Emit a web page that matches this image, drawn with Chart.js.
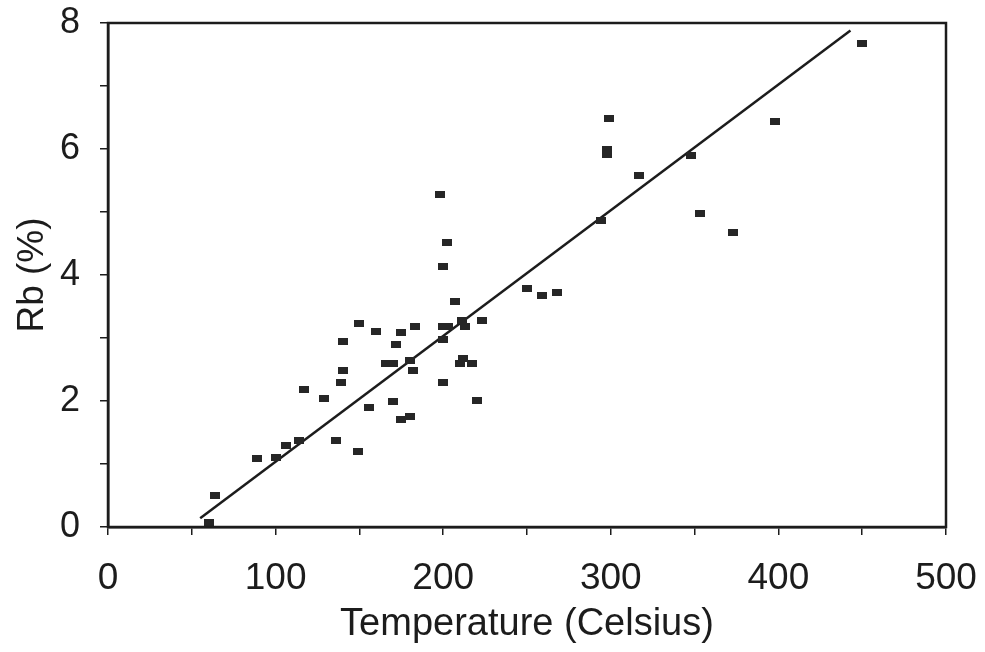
<!DOCTYPE html>
<html>
<head>
<meta charset="utf-8">
<script src="https://cdn.jsdelivr.net/npm/chart.js@4/dist/chart.umd.min.js"></script>
<style>
  html, body { margin: 0; padding: 0; background: #fff; }
  #wrap { width: 985px; height: 652px; }
</style>
</head>
<body>
<div id="wrap"><canvas id="rb-chart" width="985" height="652"></canvas></div>
<script>
// temperature (C) and Rb (%)
const temps = [60, 64, 89, 100, 106, 114, 117, 129, 140, 140, 139, 136, 149, 150, 160,
  156, 166, 170, 170, 172, 175, 175, 180, 180, 182, 183, 198, 200, 202, 200, 203, 200,
  200, 207, 211, 213, 212, 210, 217, 220, 223, 250, 259, 268, 294, 299, 298, 298, 317,
  348, 353, 373, 398, 450];
const rb = [0.07, 0.5, 1.09, 1.11, 1.29, 1.38, 2.19, 2.04, 2.95, 2.49, 2.29, 1.38, 1.2,
  3.23, 3.1, 1.89, 2.59, 2.59, 2.0, 2.89, 3.09, 1.7, 1.75, 2.64, 2.49, 3.19, 5.28, 4.14,
  4.51, 3.19, 3.19, 2.98, 2.3, 3.58, 3.28, 3.18, 2.68, 2.59, 2.59, 2.01, 3.28, 3.78,
  3.67, 3.72, 4.87, 6.48, 5.99, 5.91, 5.58, 5.89, 4.98, 4.67, 6.44, 7.68];

// fitted line end points
const fitX = [55, 443];
const fitY = [0.14, 7.88];

const xTicks = [0, 100, 200, 300, 400, 500];
const yTicks = [0, 2, 4, 6, 8];

const ink = "#1c1c1c";
const fontFamily = "'Liberation Sans', Arial, Helvetica, sans-serif";

// small flat rectangle like the scanned markers
function makeMarker() {
    const c = document.createElement("canvas");
    c.width = 10;
    c.height = 7;
    const g = c.getContext("2d");
    g.fillStyle = "#262626";
    g.fillRect(0, 0, 10, 7);
    return c;
}

const points = temps.map((t, i) => ({ x: t, y: rb[i] }));
const fitLine = fitX.map((t, i) => ({ x: t, y: fitY[i] }));

const frame = {
    id: "frame",
    afterDatasetsDraw(chart) {
        const a = chart.chartArea;
        const ctx = chart.ctx;
        ctx.save();
        ctx.strokeStyle = ink;
        ctx.lineWidth = 2.5;
        ctx.strokeRect(a.left, a.top, a.right - a.left, a.bottom - a.top);
        ctx.restore();
    }
};

// keep label overhang from pushing the plot area around
function noOverhang(scale) {
    scale.paddingTop = 0;
    scale.paddingBottom = 0;
    scale.paddingLeft = 0;
    scale.paddingRight = 0;
}

const ctx = document.getElementById("rb-chart").getContext("2d");

new Chart(ctx, {
    type: "scatter",
    data: {
        datasets: [
            {
                label: "Rb",
                data: points,
                pointStyle: makeMarker(),
                pointRadius: 5,
                pointHoverRadius: 5
            },
            {
                label: "fit",
                type: "line",
                data: fitLine,
                showLine: true,
                borderColor: ink,
                borderWidth: 2.5,
                pointRadius: 0,
                fill: false,
                clip: false
            }
        ]
    },
    options: {
        responsive: false,
        animation: false,
        events: [],
        layout: { padding: { top: 23, right: 39, left: 0, bottom: 0 } },
        plugins: {
            legend: { display: false },
            tooltip: { enabled: false }
        },
        scales: {
            x: {
                type: "linear",
                min: 0,
                max: 500,
                afterFit(scale) { scale.height = 125; noOverhang(scale); },
                border: { display: true, color: ink, width: 2.5 },
                grid: { drawOnChartArea: false, drawTicks: true, tickLength: 8, color: ink, lineWidth: 1.5 },
                ticks: {
                    stepSize: 50,
                    padding: 22,
                    color: ink,
                    font: { family: fontFamily, size: 37 },
                    callback: v => xTicks.includes(v) ? String(v) : ""
                },
                title: {
                    display: true,
                    text: "Temperature (Celsius)",
                    color: ink,
                    font: { family: fontFamily, size: 38 },
                    padding: { top: 0, bottom: 5 }
                }
            },
            y: {
                type: "linear",
                min: 0,
                max: 8,
                afterFit(scale) { scale.width = 108; noOverhang(scale); },
                border: { display: true, color: ink, width: 2.5 },
                grid: { drawOnChartArea: false, drawTicks: true, tickLength: 8, color: ink, lineWidth: 1.5 },
                ticks: {
                    stepSize: 1,
                    padding: 20,
                    color: ink,
                    font: { family: fontFamily, size: 36 },
                    callback: v => yTicks.includes(v) ? String(v) : ""
                },
                title: {
                    display: true,
                    text: "Rb (%)",
                    color: ink,
                    font: { family: fontFamily, size: 37 },
                    padding: { top: 11, bottom: 0 }
                }
            }
        }
    },
    plugins: [frame]
});
</script>
</body>
</html>
